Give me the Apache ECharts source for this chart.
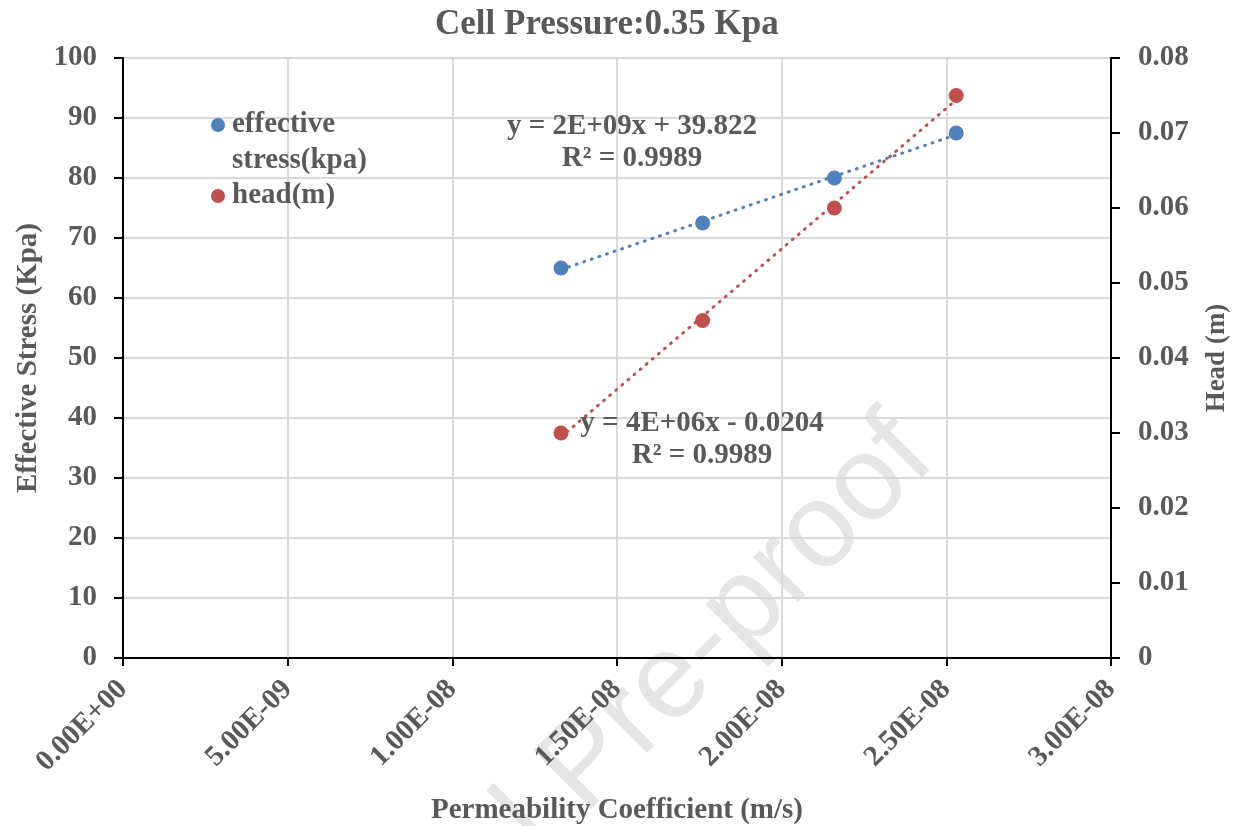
<!DOCTYPE html>
<html>
<head>
<meta charset="utf-8">
<script src="https://cdn.jsdelivr.net/npm/echarts@6/dist/echarts.min.js"></script>
<style>
  html, body { margin: 0; padding: 0; background: #fff; }
  #chart { width: 1234px; height: 826px; }
</style>
</head>
<body>
<div id="chart"></div>
<script>
// data
const permeability = [1.33e-8, 1.76e-8, 2.16e-8, 2.53e-8]
const effectiveStress = [65, 72.5, 80, 87.5]
const head = [0.03, 0.045, 0.06, 0.075]

const xTickLabels = ['0.00E+00', '5.00E-09', '1.00E-08', '1.50E-08', '2.00E-08', '2.50E-08', '3.00E-08']
const leftTickLabels = ['0', '10', '20', '30', '40', '50', '60', '70', '80', '90', '100']
const rightTickLabels = ['0', '0.01', '0.02', '0.03', '0.04', '0.05', '0.06', '0.07', '0.08']

const stressEquation = ['y = 2E+09x + 39.822', 'R² = 0.9989']
const headEquation = ['y = 4E+06x - 0.0204', 'R² = 0.9989']

const FONT = "'Liberation Serif', 'Times New Roman', serif"
const GREY = '#595959'
const BLUE = '#4F81BD'
const RED = '#C0504D'

// least squares line, drawn between the first and last x
function trend(xs, ys) {
  const n = xs.length
  const mx = xs.reduce((a, b) => a + b, 0) / n
  const my = ys.reduce((a, b) => a + b, 0) / n
  let sxy = 0, sxx = 0
  for (let i = 0; i < n; i++) {
    sxy += (xs[i] - mx) * (ys[i] - my)
    sxx += (xs[i] - mx) * (xs[i] - mx)
  }
  const b = sxy / sxx
  const a = my - b * mx
  const x0 = Math.min(...xs), x1 = Math.max(...xs)
  return [[x0, a + b * x0], [x1, a + b * x1]]
}

const chart = echarts.init(document.getElementById('chart'))

const labelStyle = { fontFamily: FONT, fontWeight: 'bold', fontSize: 29, color: GREY }
const nameStyle = { fontFamily: FONT, fontWeight: 'bold', fontSize: 29, color: GREY }
const legendText = { fontFamily: FONT, fontWeight: 'bold', fontSize: 29, color: GREY, lineHeight: 36, padding: [0, 0, 0, 2] }
const dotted = { width: 3, type: [1, 7], cap: 'round' }
const wmAngle = 45 * Math.PI / 180

const option = {
  backgroundColor: '#fff',
  animation: false,
  title: {
    text: 'Cell Pressure:0.35 Kpa',
    left: 430,
    top: 2,
    textStyle: { fontFamily: FONT, fontWeight: 'bold', fontSize: 35, color: GREY }
  },
  // two legends; the blank first line keeps the marker level with "effective"
  legend: [
    {
      orient: 'vertical',
      left: 206, top: 66,
      itemWidth: 14, itemHeight: 14,
      icon: 'circle',
      data: ['effective stress(kpa)'],
      formatter: () => '\neffective\nstress(kpa)',
      textStyle: legendText
    },
    {
      orient: 'vertical',
      left: 206, top: 173,
      itemWidth: 14, itemHeight: 14,
      icon: 'circle',
      data: ['head(m)'],
      textStyle: legendText
    }
  ],
  grid: {
    left: 123, right: 123, top: 58, bottom: 168,
    outerBoundsMode: 'none',
    show: true, borderColor: '#000', borderWidth: 2
  },
  xAxis: {
    type: 'value',
    min: 0, max: 3e-8, interval: 5e-9,
    name: 'Permeability Coefficient (m/s)',
    nameLocation: 'middle',
    nameGap: 138,
    nameTextStyle: nameStyle,
    axisLine: { show: true, lineStyle: { color: '#000', width: 2 } },
    axisTick: { show: true, length: 8, lineStyle: { color: '#000', width: 2 } },
    axisLabel: Object.assign({ rotate: 45, margin: 27, formatter: (v, i) => xTickLabels[i] }, labelStyle),
    splitLine: { show: true, lineStyle: { color: '#d9d9d9', width: 2 } }
  },
  yAxis: [
    {
      type: 'value',
      min: 0, max: 100, interval: 10,
      name: 'Effective Stress (Kpa)',
      nameLocation: 'middle',
      nameRotate: 90,
      nameGap: 80,
      nameTextStyle: nameStyle,
      axisLine: { show: true, lineStyle: { color: '#000', width: 2 } },
      axisTick: { show: true, length: 9, lineStyle: { color: '#000', width: 2 } },
      axisLabel: Object.assign({ margin: 26, formatter: (v, i) => leftTickLabels[i] }, labelStyle),
      splitLine: { show: true, lineStyle: { color: '#d9d9d9', width: 2 } }
    },
    {
      type: 'value',
      position: 'right',
      min: 0, max: 0.08, interval: 0.01,
      name: 'Head (m)',
      nameLocation: 'middle',
      nameRotate: 90,
      nameGap: 93,
      nameTextStyle: Object.assign({}, nameStyle, { fontSize: 27 }),
      axisLine: { show: true, lineStyle: { color: '#000', width: 2 } },
      axisTick: { show: true, length: 9, lineStyle: { color: '#000', width: 2 } },
      axisLabel: Object.assign({ margin: 27, formatter: (v, i) => rightTickLabels[i] }, labelStyle),
      splitLine: { show: false }
    }
  ],
  graphic: [
    // Journal Pre-proof watermark
    {
      type: 'text', z: -10, silent: true,
      x: 561, y: 792, rotation: wmAngle,
      style: { text: 'Journal ', fontFamily: "'Liberation Sans', Arial, sans-serif", fontSize: 120,
        fill: '#e6e6e6', align: 'right', verticalAlign: 'middle' }
    },
    {
      type: 'text', z: -10, silent: true,
      x: 561, y: 792, rotation: wmAngle,
      style: { text: 'Pre-proof', fontFamily: "'Liberation Sans', Arial, sans-serif", fontSize: 120,
        fill: '#e6e6e6', align: 'left', verticalAlign: 'middle' }
    },
    {
      type: 'text', z: 100, x: 632, y: 111,
      style: { text: stressEquation.join('\n'), fontFamily: FONT, fontWeight: 'bold', fontSize: 29,
        lineHeight: 32, fill: GREY, align: 'center', verticalAlign: 'top' }
    },
    {
      type: 'text', z: 100, x: 702, y: 408,
      style: { text: headEquation.join('\n'), fontFamily: FONT, fontWeight: 'bold', fontSize: 29,
        lineHeight: 32, fill: GREY, align: 'center', verticalAlign: 'top' }
    }
  ],
  series: [
    {
      name: 'effective stress(kpa) trend',
      type: 'line',
      yAxisIndex: 0,
      data: trend(permeability, effectiveStress),
      showSymbol: false,
      lineStyle: Object.assign({ color: BLUE }, dotted),
      z: 2
    },
    {
      name: 'head(m) trend',
      type: 'line',
      yAxisIndex: 1,
      data: trend(permeability, head),
      showSymbol: false,
      lineStyle: Object.assign({ color: RED }, dotted),
      z: 2
    },
    {
      name: 'effective stress(kpa)',
      type: 'scatter',
      yAxisIndex: 0,
      symbolSize: 15,
      itemStyle: { color: BLUE, opacity: 1 },
      data: permeability.map((x, i) => [x, effectiveStress[i]]),
      z: 3
    },
    {
      name: 'head(m)',
      type: 'scatter',
      yAxisIndex: 1,
      symbolSize: 15,
      itemStyle: { color: RED, opacity: 1 },
      data: permeability.map((x, i) => [x, head[i]]),
      z: 3
    }
  ]
}

chart.setOption(option)
</script>
</body>
</html>
